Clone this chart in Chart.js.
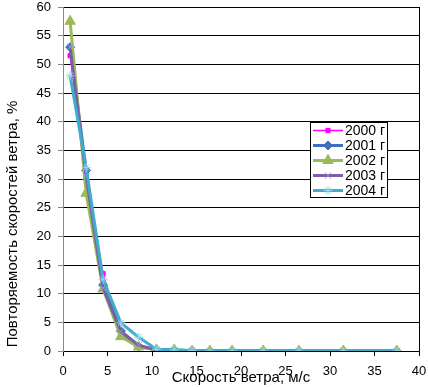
<!DOCTYPE html>
<html>
<head>
<meta charset="utf-8">
<script src="https://cdn.jsdelivr.net/npm/chart.js@4/dist/chart.umd.min.js"></script>
<style>
  html, body { margin: 0; padding: 0; background: #fff; }
  #wrap { width: 428px; height: 387px; }
</style>
</head>
<body>
<div id="wrap"><canvas id="windChart" width="428" height="387"></canvas></div>
<script>
// wind speed class midpoints, m/s
const speeds = [0.8, 2.6, 4.5, 6.5, 8.5, 10.5, 12.5, 14.5, 16.5, 19, 22.5, 26.5, 31.5, 37.5];

// frequency of wind speeds, %
const y2000 = [51.5, 30.5, 13.5, 3.0, 0.8, 0.2, 0.1, 0, 0, 0, 0, 0, 0, 0];
const y2001 = [53.0, 31.5, 11.5, 3.5, 0.8, 0.2, 0.1, 0, 0, 0, 0, 0, 0, 0];
const y2002 = [57.5, 27.5, 10.8, 2.5, 0.7, 0.2, 0.2, 0, 0, 0, 0, 0, 0, 0];
const y2003 = [53.0, 30.5, 11.0, 3.4, 1.0, 0.2, 0.1, 0, 0, 0, 0, 0, 0, 0];
const y2004 = [48.0, 32.0, 12.5, 4.9, 2.4, 0.3, 0.2, 0.1, 0, 0, 0, 0, 0, 0];

const seriesLabels = ["2000 г", "2001 г", "2002 г", "2003 г", "2004 г"];
const yTitle = "Повторяемость скоростей ветра, %";
const xTitle = "Скорость ветра, м/с";

const FONT = "'Liberation Sans', Arial, sans-serif";

function pts(ys) {
    return speeds.map((x, i) => ({ x: x, y: ys[i] }));
}

function series(label, ys, color, width, pStyle, pColor, radius, order) {
    return {
        label: label,
        data: pts(ys),
        borderColor: color,
        borderWidth: width,
        pointStyle: pStyle,
        pointRadius: radius,
        pointBackgroundColor: pColor,
        pointBorderColor: pColor,
        pointBorderWidth: 1,
        order: order, // later years on top, like Excel
        tension: 0,
        fill: false
    };
}

// legend box drawn inside the plot, like the Excel original
const boxLegend = {
    id: "boxLegend",
    afterDraw(chart) {
        const ctx = chart.ctx;
        const x0 = 310, y0 = 122, w = 77, h = 75;
        ctx.save();
        ctx.fillStyle = "#fff";
        ctx.fillRect(x0, y0, w, h);
        ctx.strokeStyle = "#000";
        ctx.lineWidth = 1;
        ctx.strokeRect(x0 + 0.5, y0 + 0.5, w, h);
        ctx.font = "14px " + FONT;
        ctx.textBaseline = "middle";
        chart.data.datasets.forEach((ds, i) => {
            const cy = y0 + 8.5 + i * 15;
            ctx.strokeStyle = ds.borderColor;
            ctx.lineWidth = ds.borderWidth;
            ctx.beginPath();
            ctx.moveTo(x0 + 3, cy);
            ctx.lineTo(x0 + 33, cy);
            ctx.stroke();
            ctx.fillStyle = ds.pointBackgroundColor;
            ctx.strokeStyle = ds.pointBorderColor;
            ctx.lineWidth = 1;
            Chart.helpers.drawPoint(ctx, {
                pointStyle: ds.pointStyle,
                radius: ds.pointRadius,
                rotation: 0,
                borderWidth: 1
            }, x0 + 18, cy);
            ctx.fillStyle = "#000";
            ctx.fillText(ds.label, x0 + 35, cy + 1);
        });
        ctx.restore();
    }
};

// right border of the plot area + y axis title (sits low, as in Excel)
const frameAndTitle = {
    id: "frameAndTitle",
    beforeDatasetsDraw(chart) {
        const a = chart.chartArea;
        const ctx = chart.ctx;
        ctx.save();
        ctx.strokeStyle = "#000";
        ctx.lineWidth = 1;
        ctx.beginPath();
        ctx.moveTo(a.right + 0.5, a.top);
        ctx.lineTo(a.right + 0.5, a.bottom);
        ctx.stroke();

        ctx.translate(13, 224);
        ctx.rotate(-Math.PI / 2);
        ctx.font = "15px " + FONT;
        ctx.fillStyle = "#000";
        ctx.textAlign = "center";
        ctx.textBaseline = "middle";
        ctx.fillText(yTitle, 0, 0);
        ctx.restore();
    }
};

new Chart(document.getElementById("windChart").getContext("2d"), {
    type: "line",
    data: {
        datasets: [
            series(seriesLabels[0], y2000, "#FF00FF", 1.5, "rect", "#FF00FF", 3, 4),
            series(seriesLabels[1], y2001, "#3F6EBF", 3, "rectRot", "#3F6EBF", 4.5, 3),
            series(seriesLabels[2], y2002, "#9BBB59", 3, "triangle", "#9BBB59", 6, 2),
            series(seriesLabels[3], y2003, "#7A5FA6", 3, "crossRot", "#A58FD0", 4.5, 1),
            series(seriesLabels[4], y2004, "#3FAECB", 3, "star", "#8FD6EC", 4.5, 0)
        ]
    },
    options: {
        responsive: false,
        animation: false,
        layout: { padding: 0 },
        plugins: {
            legend: { display: false },
            tooltip: { enabled: false }
        },
        scales: {
            x: {
                type: "linear",
                min: 0,
                max: 40,
                afterFit(scale) {
                    scale.height = 36;
                    scale.paddingLeft = 0;
                    scale.paddingRight = 9;
                },
                ticks: {
                    stepSize: 5,
                    padding: 8,
                    color: "#000",
                    maxRotation: 0,
                    font: { family: FONT, size: 13 }
                },
                grid: {
                    drawOnChartArea: false,
                    drawTicks: true,
                    tickLength: 5,
                    color: "#000"
                },
                border: { display: true, color: "#000" },
                title: {
                    display: true,
                    text: xTitle,
                    color: "#000",
                    padding: { top: 0, bottom: 0 },
                    font: { family: FONT, size: 15 }
                }
            },
            y: {
                min: 0,
                max: 60,
                afterFit(scale) {
                    scale.width = 63;
                    scale.paddingTop = 6;
                    scale.paddingBottom = 0;
                },
                ticks: {
                    stepSize: 5,
                    padding: 7,
                    color: "#000",
                    font: { family: FONT, size: 13 }
                },
                grid: {
                    color: "#000",
                    lineWidth: 1,
                    tickLength: 5,
                    tickColor: "#888"
                },
                border: { display: true, color: "#888" }
            }
        }
    },
    plugins: [frameAndTitle, boxLegend]
});
</script>
</body>
</html>
